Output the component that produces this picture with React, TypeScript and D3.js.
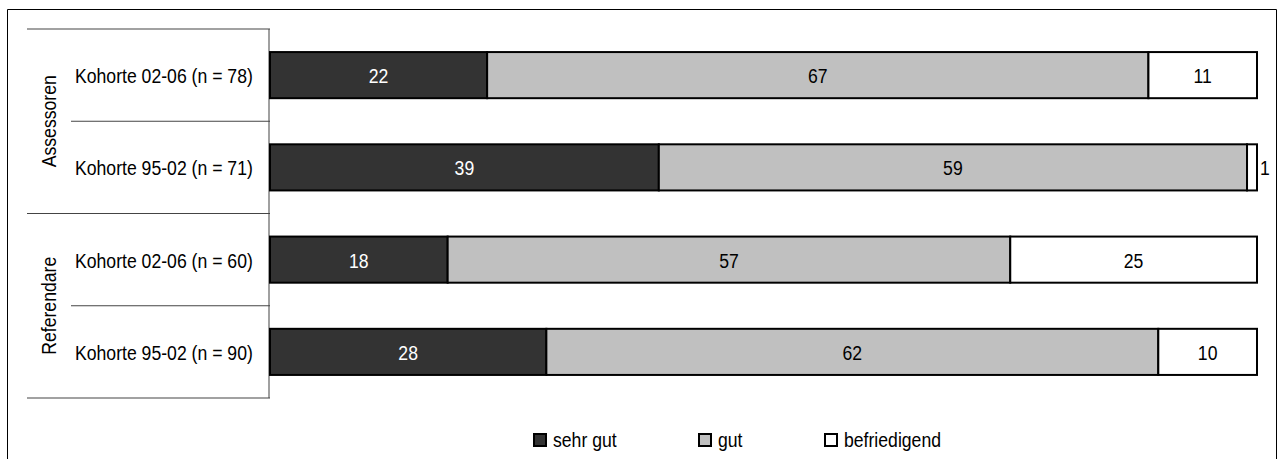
import React from "react";
import * as d3 from "d3";

const groups = ["Assessoren", "Referendare"];
const categories = [
  "Kohorte 02-06 (n = 78)",
  "Kohorte 95-02 (n = 71)",
  "Kohorte 02-06 (n = 60)",
  "Kohorte 95-02 (n = 90)",
];
const categoryGroup = [0, 0, 1, 1];
const seriesNames = ["sehr gut", "gut", "befriedigend"];
const sehrGut = [22, 39, 18, 28];
const gut = [67, 59, 57, 62];
const befriedigend = [11, 1, 25, 10];
const colors = ["#333333", "#c0c0c0", "#ffffff"];
const labelColors = ["#ffffff", "#000000", "#000000"];

const FONT = "'Liberation Sans', Arial, sans-serif";
const FS = 21;
const SX = 0.84;

function T({ x, y, anchor = "start", fill = "#000", rotate = 0, children }: any) {
  return (
    <text
      transform={`translate(${x},${y}) rotate(${rotate}) scale(${SX},1)`}
      textAnchor={anchor}
      fontSize={FS}
      fill={fill}
    >
      {children}
    </text>
  );
}

export default function App() {
  const W = 1282, H = 459;
  const axisX = 270;
  const plotTop = 29, plotBottom = 398;
  const x = d3.scaleLinear().domain([0, 1]).range([axisX, 1257]);
  const y = d3.scaleBand().domain(categories).range([plotTop, plotBottom]).paddingInner(0).paddingOuter(0);
  const table = categories.map((c, i) => ({ cat: c, "sehr gut": sehrGut[i], gut: gut[i], befriedigend: befriedigend[i] }));
  const stack = d3.stack<any>().keys(seriesNames).offset(d3.stackOffsetExpand);
  const layers = stack(table);
  const bw = y.bandwidth();
  const barH = bw * 0.5;

  const groupRows = groups.map((g, gi) => {
    const idx = categoryGroup.map((v, i) => (v === gi ? i : -1)).filter((i) => i >= 0);
    const top = y(categories[idx[0]])!;
    const bottom = y(categories[idx[idx.length - 1]])! + bw;
    return { g, top, bottom, idx };
  });

  const legendX = [534, 699, 825];

  return (
    <svg width={W} height={H} style={{ position: "absolute", left: 0, top: 0 }} fontFamily={FONT}>
      <rect x={0} y={0} width={W} height={H} fill="#fff" />
      {/* outer frame */}
      <path d={`M7.5,${H} V9.5 H1276.5 V${H}`} fill="none" stroke="#000" strokeWidth={1} />
      {/* category axis table */}
      <line x1={axisX - 1} x2={axisX - 1} y1={plotTop} y2={plotBottom} stroke="#808080" strokeWidth={1.5} />
      {groupRows.map((gr, gi) => (
        <g key={gr.g}>
          <line x1={27} x2={axisX} y1={gr.top} y2={gr.top} stroke="#444" strokeWidth={1.2} />
          {gi === groupRows.length - 1 && (
            <line x1={27} x2={axisX} y1={gr.bottom} y2={gr.bottom} stroke="#444" strokeWidth={1.2} />
          )}
          {gr.idx.slice(1).map((i) => (
            <line key={i} x1={71} x2={axisX} y1={y(categories[i])!} y2={y(categories[i])!} stroke="#444" strokeWidth={1.2} />
          ))}
          <T x={56} y={(gr.top + gr.bottom) / 2} anchor="middle" rotate={-90}>
            {gr.g}
          </T>
        </g>
      ))}
      {categories.map((c) => (
        <T key={c} x={75} y={y(c)! + bw / 2 + 8}>
          {c}
        </T>
      ))}
      {/* bars */}
      {layers.map((layer, li) => (
        <g key={layer.key}>
          {layer.map((d, i) => {
            const x0 = x(d[0]);
            const x1 = x(d[1]);
            const yy = y(categories[i])! + (bw - barH) / 2;
            const val = [sehrGut, gut, befriedigend][li][i];
            const w = x1 - x0;
            const outside = w < 20;
            return (
              <g key={i}>
                <rect x={x0} y={yy} width={w} height={barH} fill={colors[li]} stroke="#000" strokeWidth={2} />
                <T
                  x={outside ? x1 + 3 : (x0 + x1) / 2}
                  y={yy + barH / 2 + 8}
                  anchor={outside ? "start" : "middle"}
                  fill={outside ? "#000" : labelColors[li]}
                >
                  {val}
                </T>
              </g>
            );
          })}
        </g>
      ))}
      {/* legend */}
      {seriesNames.map((s, i) => (
        <g key={s}>
          <rect x={legendX[i]} y={434} width={12} height={12} fill={colors[i]} stroke="#000" strokeWidth={2} />
          <T x={legendX[i] + 19} y={447}>
            {s}
          </T>
        </g>
      ))}
    </svg>
  );
}
